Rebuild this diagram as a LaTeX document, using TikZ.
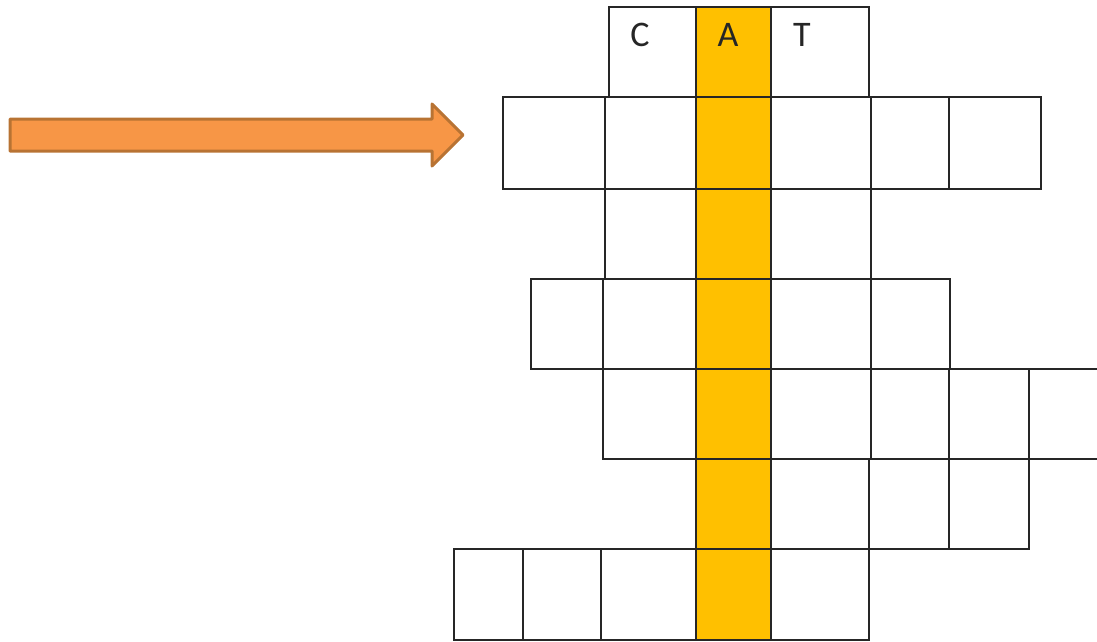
\documentclass[tikz,border=0pt]{standalone}
\usepackage{fontspec}
\setmainfont{Carlito}
\definecolor{colfill}{HTML}{FFC000}
\definecolor{arrowfill}{HTML}{F79646}
\definecolor{arrowline}{HTML}{B87333}
\tikzset{
    cell/.style={draw=black!85,line width=1.6pt},
    letter/.style={font=\fontsize{36}{40}\selectfont,text=black!85,inner sep=0pt}
}
\begin{document}
\begin{tikzpicture}[x=1pt,y=-1pt]
    \useasboundingbox (0,0) rectangle (1097,642);
    % highlighted column
    \fill[colfill] (696,7) rectangle (771,640);
    % rows of the puzzle: top, bottom, then cell edges
    \foreach \top/\bot/\edges in {
        7/97/{609,696,771,869},
        97/189/{503,605,696,771,871,949,1041},
        189/279/{605,696,771,871},
        279/369/{531,603,696,771,871,950},
        369/459/{603,696,771,871,949,1029,1120},
        459/549/{696,771,869,949,1029},
        549/640/{454,523,601,696,771,869}} {
        \foreach \x [remember=\x as \lastx (initially 0)] in \edges {
            \ifnum\lastx>0
                \draw[cell] (\lastx,\top) rectangle (\x,\bot);
            \fi
        }
    }
    \node[letter] (c) at (640,35) {C};
    \node[letter] (a) at (728,35) {A};
    \node[letter] (t) at (802,35) {T};
    % the arrow
    \filldraw[fill=arrowfill,draw=arrowline,line width=3pt,line join=round]
        (10,119) -- (432,119) -- (432,104) -- (463,135) -- (432,166)
        -- (432,151) -- (10,151) -- cycle;
\end{tikzpicture}
\end{document}
